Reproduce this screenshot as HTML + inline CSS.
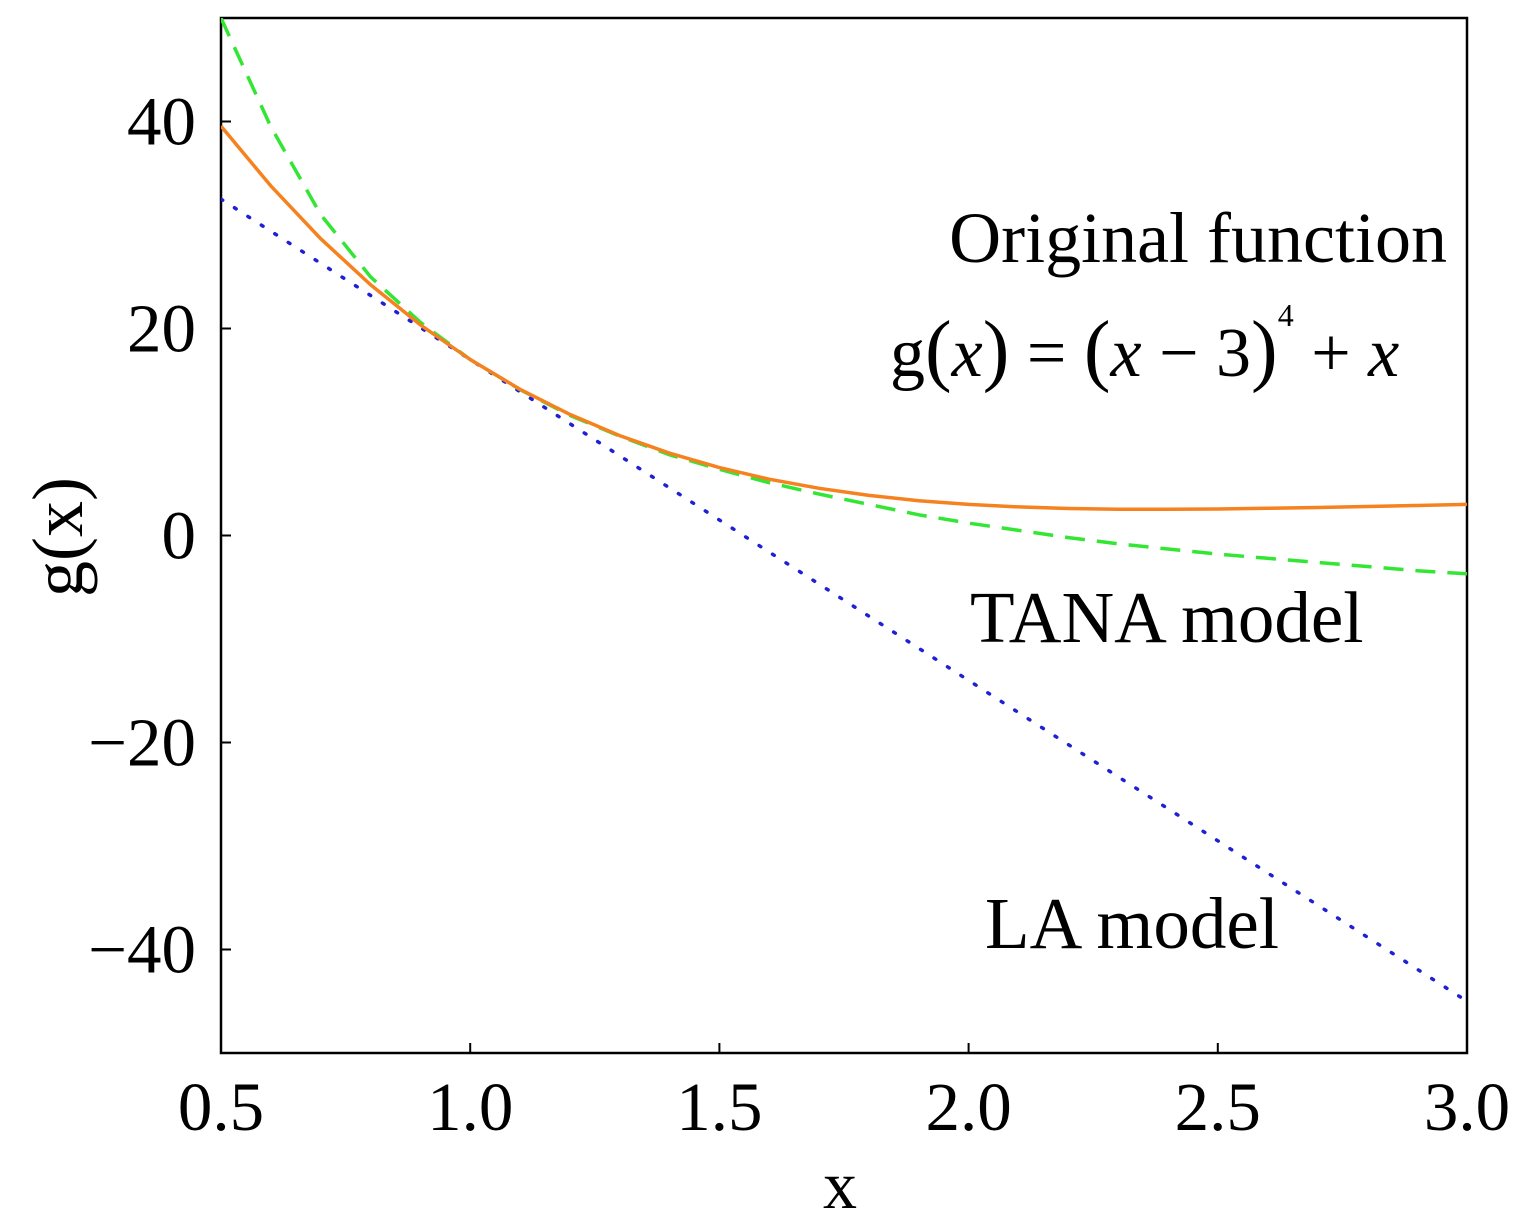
<!DOCTYPE html>
<html><head><meta charset="utf-8"><style>
html,body{margin:0;padding:0;background:#fff;}
svg{display:block;font-family:"Liberation Serif",serif;}
</style></head><body>
<svg id="chart" width="1526" height="1225" viewBox="0 0 1526 1225">
<g id="axes"></g>
<g id="series"></g>
<text x="1447" y="262" font-size="72" text-anchor="end">Original function</text>
<text x="890" y="376" font-size="70">g<tspan font-size="80">(</tspan><tspan font-style="italic">x</tspan><tspan font-size="80">)</tspan> = <tspan font-size="80">(</tspan><tspan font-style="italic">x</tspan> − 3<tspan font-size="80">)</tspan><tspan font-size="32" dy="-50">4</tspan><tspan dy="50"> + </tspan><tspan font-style="italic">x</tspan></text>
<text x="970" y="642" font-size="73">TANA model</text>
<text x="985" y="948" font-size="73">LA model</text>
<text x="840" y="1208" font-size="68" text-anchor="middle">x</text>
<text transform="translate(82,537) rotate(-90)" font-size="72" text-anchor="middle">g(x)</text>
</svg>
<script>
const xs = [0.5,0.6,0.7,0.8,0.9,1.0,1.1,1.2,1.3,1.4,1.5,1.6,1.7,1.8,1.9,2.0,2.1,2.2,2.3,2.4,2.5,2.6,2.7,2.8,2.9,3.0];
const original = [39.56,33.78,28.68,24.23,20.35,17,14.13,11.70,9.65,7.95,6.56,5.44,4.56,3.87,3.36,3.0,2.76,2.61,2.54,2.53,2.56,2.63,2.71,2.80,2.90,3.0];
const tana = [50,39.5,31,25,20.6,17,14.1,11.6,9.6,7.8,6.4,5.1,4.0,3.0,2.0,1.2,0.5,-0.2,-0.8,-1.3,-1.8,-2.2,-2.6,-3.0,-3.4,-3.7];
const la = [32.5,29.4,26.3,23.2,20.1,17,13.9,10.8,7.7,4.6,1.5,-1.6,-4.7,-7.8,-10.9,-14,-17.1,-20.2,-23.3,-26.4,-29.5,-32.6,-35.7,-38.8,-41.9,-45];
const xTicks = [0.5,1.0,1.5,2.0,2.5,3.0];
const xTickLabels = ["0.5","1.0","1.5","2.0","2.5","3.0"];
const yTicks = [40,20,0,-20,-40];
const yTickLabels = ["40","20","0","\u221220","\u221240"];

const L=221,R=1467,T=18,B=1053,xmin=0.5,xmax=3.0,ymin=-50,ymax=50;
const sx=v=>L+(v-xmin)/(xmax-xmin)*(R-L);
const sy=v=>B-(v-ymin)/(ymax-ymin)*(B-T);
const NS="http://www.w3.org/2000/svg";
const axes=document.getElementById('axes'), ser=document.getElementById('series');
function mk(tag,attrs,parent){const e=document.createElementNS(NS,tag);for(const k in attrs)e.setAttribute(k,attrs[k]);parent.appendChild(e);return e;}

const frame=mk('rect',{x:L,y:T,width:R-L,height:B-T,fill:'none',stroke:'#000','stroke-width':2.5},axes);



xTicks.forEach((v,i)=>{
  const t=mk('path',{d:`M${sx(v)},${B}V${B-10}`,stroke:'#000','stroke-width':2},axes);
  
  
  const lb=mk('text',{x:sx(v),y:1130,'font-size':69,'text-anchor':'middle'},axes);
  lb.textContent=xTickLabels[i];
  
  
});
yTicks.forEach((v,i)=>{
  const t=mk('path',{d:`M${L},${sy(v)}H${L+10}`,stroke:'#000','stroke-width':2},axes);
  
  
  const lb=mk('text',{x:196,y:sy(v)+23,'font-size':69,'text-anchor':'end'},axes);
  lb.textContent=yTickLabels[i];
  
  
});

const clip=mk('clipPath',{id:'pc'},document.getElementById('chart'));
mk('rect',{x:L,y:T,width:R-L,height:B-T},clip);
function line(vals,style,name){
  const d=vals.map((v,i)=>(i?'L':'M')+sx(xs[i]).toFixed(1)+','+sy(v).toFixed(1)).join('');
  const p=mk('path',Object.assign({d:d,fill:'none','clip-path':'url(#pc)'},style),ser);
  
  
}
line(la,{stroke:'#1f1fd6','stroke-width':3.5,'stroke-dasharray':'2 14','stroke-linecap':'round'},'la-model-line');
line(tana,{stroke:'#33e633','stroke-width':3.5,'stroke-dasharray':'20 12'},'tana-model-line');
line(original,{stroke:'#f5821f','stroke-width':3.5},'original-function-line');
</script>
</body></html>
